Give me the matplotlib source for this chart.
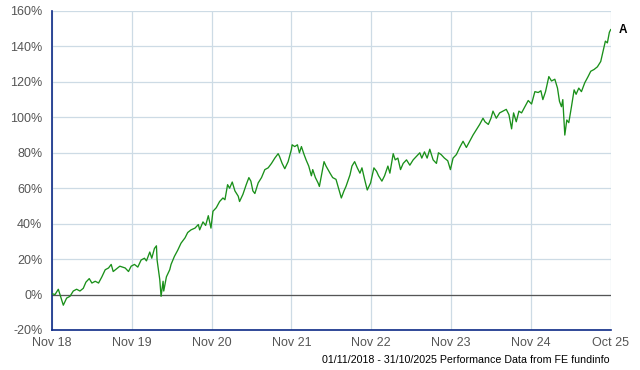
import numpy as np
import matplotlib
matplotlib.use("Agg")
import matplotlib.pyplot as plt

# months since 01/11/2018 and cumulative performance (%)
MONTHS = [0.0, 0.45, 0.95, 1.2, 1.7, 2.2, 2.7, 3.2, 3.7, 4.2, 4.7, 5.1, 5.6, 6.0, 6.5,
          7.0, 7.5, 8.0, 8.5, 8.9, 9.2, 9.7, 10.2, 11.0, 11.5, 11.9, 12.4, 12.9, 13.4,
          13.9, 14.2, 14.7, 15.0, 15.4, 15.7, 15.8, 16.2, 16.4, 16.7, 16.8, 17.2, 17.7,
          17.9, 18.4, 18.9, 19.4, 20.0, 20.4, 20.9, 21.5, 22.0, 22.2, 22.7, 23.1, 23.5,
          23.9, 24.2, 24.7, 25.2, 25.7, 26.0, 26.4, 26.7, 27.1, 27.5, 28.0, 28.2, 28.7,
          29.2, 29.6, 29.9, 30.2, 30.5, 31.0, 31.5, 32.0, 32.5, 33.0, 33.5, 34.0, 34.2,
          34.6, 35.0, 35.5, 36.0, 36.1, 36.5, 36.9, 37.2, 37.5, 37.9, 38.2, 38.6, 39.0,
          39.2, 39.6, 40.0, 40.2, 40.5, 40.9, 41.2, 41.8, 42.2, 42.7, 43.0, 43.5, 43.9,
          44.2, 44.8, 45.1, 45.5, 45.9, 46.3, 46.6, 47.0, 47.4, 47.9, 48.4, 48.8, 49.1,
          49.6, 50.0, 50.5, 50.8, 51.3, 51.6, 52.0, 52.4, 52.8, 53.3, 53.8, 54.3, 54.8,
          55.3, 55.6, 56.0, 56.4, 56.8, 57.3, 57.8, 58.1, 58.5, 59.0, 59.5, 59.9, 60.3,
          60.8, 61.3, 61.8, 62.3, 62.8, 63.3, 63.8, 64.3, 64.8, 65.1, 65.6, 66.0, 66.3,
          66.8, 67.3, 67.8, 68.3, 68.7, 69.1, 69.4, 69.8, 70.2, 70.6, 71.1, 71.6, 72.1,
          72.6, 73.1, 73.5, 73.8, 74.2, 74.5, 74.7, 75.1, 75.6, 76.0, 76.3, 76.6, 76.8,
          77.1, 77.4, 77.7, 78.1, 78.5, 78.8, 79.2, 79.6, 80.1, 80.6, 81.0, 81.5, 82.0,
          82.5, 82.8, 83.2, 83.5, 83.8, 84.0]
PERF = [0.5, 0, 3, 0, -6, -2, -1, 2, 3, 2, 3.5, 7, 9, 6.5, 7.5,
        6.5, 10, 14, 15, 17, 13, 14.5, 16, 15, 13, 16, 17, 15.5, 19.5,
        20.5, 19, 24, 20.5, 26, 27.5, 19.5, 8.5, -1, 7.5, 2, 10, 14,
        17, 21.5, 25, 29, 32, 35, 36.5, 37.5, 39.5, 36.5, 41, 39, 44.5,
        37.5, 47, 49, 52.5, 54.5, 53.5, 62, 60, 63.5, 58.5, 55.5, 52.5, 56.5,
        62, 66, 64, 58.5, 57, 63, 66, 70.5, 71.5, 74, 77, 79.5, 78,
        74, 71, 75, 82, 84.5, 83.5, 84.5, 80, 83.5, 79, 76, 72.5, 67,
        70.5, 66, 63, 61, 67, 75, 72.5, 68.5, 66, 65, 61, 54.5, 58.5,
        61, 67.5, 72.5, 75, 71.5, 68.5, 71.5, 65, 59, 63, 71.5, 69.5, 67,
        64, 67, 72.5, 68.5, 79.5, 76, 77, 70.5, 74, 76, 73, 76, 78,
        80, 77, 80.5, 77, 82, 76, 74, 80, 79, 77, 75.5, 70.5, 77,
        79, 83, 86.5, 83, 86.5, 90, 93, 96, 99.5, 97.5, 96, 99.5, 103.5,
        99.5, 102.5, 103.5, 104.5, 101.5, 93.5, 102.5, 97.5, 103.5, 102.5, 106, 109.5, 107.5,
        114.5, 114, 115, 110, 114.5, 119.5, 123, 120.5, 121.5, 116.5, 109, 106, 110,
        90, 98.5, 97, 106, 115.5, 113, 116.5, 114.5, 119.5, 123, 126, 127, 128.5,
        131.5, 136.5, 143, 142, 148, 149.5]
XTICKS = [0, 12, 24, 36, 48, 60, 72, 84]
XLABELS = ["Nov 18", "Nov 19", "Nov 20", "Nov 21", "Nov 22", "Nov 23", "Nov 24", "Oct 25"]
YTICKS = list(range(-20, 161, 20))

plt.rcParams.update({"font.family": ["Liberation Sans", "DejaVu Sans"]})
GRID = "#cddbe5"
NAVY = "#0d2a86"

fig = plt.figure(figsize=(6.4, 3.7), dpi=100)
ax = fig.add_axes([52 / 640, 1 - 330 / 370, 558.7 / 640, 319 / 370])

ax.plot(MONTHS, PERF, color="#1a901a", lw=0.95, zorder=3)
ax.axhline(0, color="#555555", lw=0.9, zorder=2)

ax.set_xlim(0, 84); ax.set_ylim(-20, 160)
ax.set_xticks(XTICKS); ax.set_xticklabels(XLABELS)
ax.set_yticks(YTICKS); ax.set_yticklabels([f"{v}%" for v in YTICKS])
ax.grid(True, color=GRID, lw=0.9, zorder=0)
ax.tick_params(length=0, labelsize=9, colors="#555555")
ax.tick_params(axis="y", pad=7)
ax.tick_params(axis="x", pad=5)
for s in ("top", "right"):
    ax.spines[s].set_visible(False)
for s in ("left", "bottom"):
    ax.spines[s].set_color(NAVY); ax.spines[s].set_linewidth(1.2)

fig.text(619 / 640, 1 - 30 / 370, "A", fontsize=8.5, fontweight="bold",
         ha="left", va="center", color="black")
fig.text(610 / 640, 1 - 360 / 370, "01/11/2018 - 31/10/2025 Performance Data from FE fundinfo",
         fontsize=7.7, ha="right", va="center", color="black")

fig.savefig("out.png", dpi=100)
